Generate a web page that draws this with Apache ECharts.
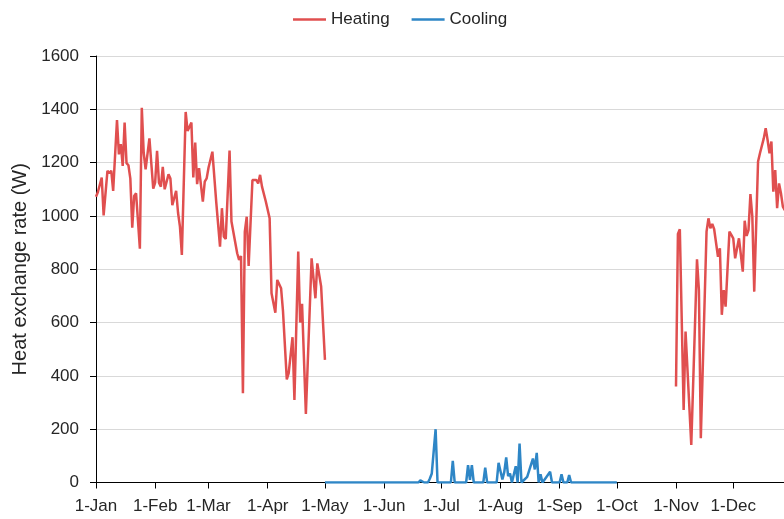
<!DOCTYPE html>
<html>
<head>
<meta charset="utf-8">
<script src="https://cdn.jsdelivr.net/npm/echarts@6/dist/echarts.min.js"></script>
<style>
  html, body { margin: 0; padding: 0; background: #fff; }
  #chart { width: 784px; height: 519px; }
</style>
</head>
<body>
<div id="chart"></div>
<script>
// Day of year (0 = 1-Jan) and values
const monthStarts = [0, 31, 59, 90, 120, 151, 181, 212, 243, 273, 304, 334];
const monthLabels = ['1-Jan', '1-Feb', '1-Mar', '1-Apr', '1-May', '1-Jun', '1-Jul', '1-Aug', '1-Sep', '1-Oct', '1-Nov', '1-Dec'];
const yTicks = [0, 200, 400, 600, 800, 1000, 1200, 1400, 1600];
// visible part of the year (the plot is cropped at the right edge)
const xVisibleMax = 360.6;

const heatingDaysA = [0, 1, 3, 4, 6, 7, 8, 9, 11, 12, 13, 14, 15, 16, 17, 18, 19, 20, 21, 23, 24, 25, 26, 28, 30, 31, 32, 33, 34, 35, 36, 38, 39, 40, 42, 43, 44, 45, 47, 48, 49, 50, 51, 52, 53,
  54, 56, 57, 58, 59, 60, 61, 63, 64, 65, 66, 67, 68, 70, 71, 72, 74, 75, 76, 77, 78, 79, 80, 82, 84, 85, 86, 87, 89, 91, 92, 94, 95, 96, 97, 98, 99, 100, 101, 102, 103, 104, 106, 107, 108, 110, 113, 115, 116, 118, 120];
const heatingValsA = [1072, 1090, 1144, 1002, 1169, 1160, 1170, 1094, 1360, 1231, 1269, 1188, 1350, 1198, 1190, 1140, 956, 1075, 1085, 877, 1406, 1237, 1175, 1291, 1102, 1125, 1244, 1125, 1110, 1184, 1100, 1156, 1140, 1040, 1094, 1012, 960, 854, 1390, 1319, 1319, 1350, 1144, 1275, 1119,
  1179, 1054, 1129, 1141, 1182, 1185, 1241, 1054, 1054, 885, 1029, 922, 914, 1245, 979, 985, 860, 835, 850, 335, 941, 997, 812, 1135, 1135, 1122, 1154, 1110, 1054, 991, 710, 637, 760, 757, 729, 644, 641, 387, 410, 410, 545, 310, 866, 600, 670, 257, 841, 691, 822, 735, 460];

const heatingDaysB = [304, 305, 306, 308, 309, 312, 315, 316, 317, 320, 321, 322, 323, 324, 325, 326, 327, 328, 329, 330, 332, 333, 334, 335, 336, 337, 338, 339, 340, 341, 342, 343, 344, 345, 347, 348, 350, 351, 352, 353, 354, 355, 356, 357, 358, 359, 360, 361, 362, 363, 364];
const heatingValsB = [360, 932, 950, 272, 566, 141, 837, 722, 166, 941, 991, 954, 970, 950, 950, 847, 879, 629, 722, 660, 941, 929, 916, 841, 847, 916, 910, 791, 982, 925, 947, 1082, 997, 716, 1204, 1235, 1291, 1329, 1285, 1235, 1279, 1091, 1172, 1029, 1122, 1085, 1035, 1022, 1030, 1060, 1040];

const coolingDays = [120, 125, 126, 127, 147, 148, 149, 169, 170, 171, 172, 174, 175, 176, 177, 178, 179, 186, 187, 188, 194, 195, 196, 197, 198, 203, 204, 205, 210, 211, 212, 213, 214, 215, 216, 217, 218, 219, 220, 221, 222, 223, 224, 226, 229, 230, 231, 232, 233, 234, 236, 238, 239, 243, 244, 245, 247, 248, 249, 273];
const coolingVals = [0, 0, 6, 0, 0, 4, 0, 0, 8, 8, 0, 0, 15, 34, 28, 200, 0, 0, 81, 0, 0, 65, 10, 65, 0, 0, 56, 0, 0, 74, 69, 11, 40, 94, 24, 34, 0, 0, 61, 0, 146, 0, 0, 21, 90, 49, 111, 0, 31, 0, 20, 40, 0, 0, 31, 0, 0, 28, 0, 0];

const heatingData = heatingDaysA.map((d, i) => [d, heatingValsA[i]])
  .concat([[200, '-']])
  .concat(heatingDaysB.map((d, i) => [d, heatingValsB[i]]));
const coolingData = coolingDays.map((d, i) => [d, coolingVals[i]]);

const txt = '#262626';
const chart = echarts.init(document.getElementById('chart'), null, { renderer: 'canvas' });
chart.setOption({
  animation: false,
  backgroundColor: '#ffffff',
  legend: {
    top: 6,
    left: 288,
    icon: 'rect',
    itemWidth: 33,
    itemHeight: 2.5,
    itemGap: 22,
    textStyle: { fontFamily: 'Liberation Sans', fontSize: 17, color: txt },
    data: ['Heating', 'Cooling']
  },
  grid: { left: 96, right: 0, top: 56, height: 426.5, containLabel: false },
  xAxis: {
    type: 'value',
    min: 0,
    max: xVisibleMax,
    axisLine: { show: true, onZero: false, lineStyle: { color: '#000', width: 1 } },
    axisTick: { show: true, customValues: monthStarts, length: 6, lineStyle: { color: '#000' } },
    axisLabel: {
      customValues: monthStarts,
      margin: 15,
      fontFamily: 'Liberation Sans', fontSize: 17, color: txt,
      formatter: v => monthLabels[monthStarts.indexOf(v)] || ''
    },
    splitLine: { show: false }
  },
  yAxis: {
    type: 'value',
    min: yTicks[0],
    max: yTicks[yTicks.length - 1],
    interval: 200,
    name: 'Heat exchange rate (W)',
    nameLocation: 'middle',
    nameGap: 64,
    nameTextStyle: { fontFamily: 'Liberation Sans', fontSize: 20, color: txt },
    axisLine: { show: true, lineStyle: { color: '#000', width: 1 } },
    axisTick: { show: true, length: 6, lineStyle: { color: '#000' } },
    axisLabel: { margin: 17, fontFamily: 'Liberation Sans', fontSize: 17, color: txt, formatter: v => String(v) },
    splitLine: { show: true, lineStyle: { color: '#d9d9d9', width: 1 } }
  },
  series: [
    {
      name: 'Heating', type: 'line', data: heatingData, symbol: 'none', connectNulls: false,
      lineStyle: { color: '#E04F4F', width: 2.5 }, itemStyle: { color: '#E04F4F' }, clip: true
    },
    {
      name: 'Cooling', type: 'line', data: coolingData, symbol: 'none',
      lineStyle: { color: '#2E86C6', width: 2.5 }, itemStyle: { color: '#2E86C6' }, clip: true
    }
  ]
});
</script>
</body>
</html>
